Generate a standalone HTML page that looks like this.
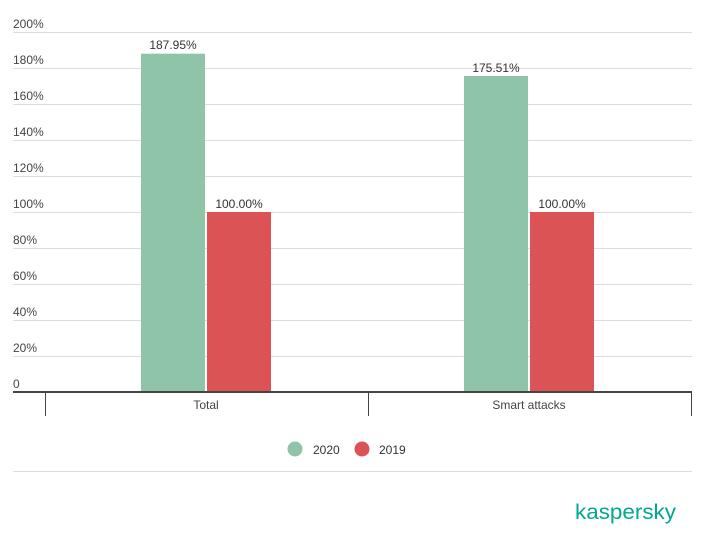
<!DOCTYPE html>
<html><head><style>
body{margin:0;background:#fff;width:706px;height:540px;overflow:hidden;font-family:"Liberation Sans",sans-serif}
</style></head><body>
<svg width="706" height="540" xmlns="http://www.w3.org/2000/svg" font-family="Liberation Sans, sans-serif">
<g stroke="#dcdcdc" stroke-width="1">
<line x1="13" x2="692" y1="32.5" y2="32.5"/><line x1="13" x2="692" y1="68.5" y2="68.5"/>
<line x1="13" x2="692" y1="104.5" y2="104.5"/><line x1="13" x2="692" y1="140.5" y2="140.5"/>
<line x1="13" x2="692" y1="176.5" y2="176.5"/><line x1="13" x2="692" y1="212.5" y2="212.5"/>
<line x1="13" x2="692" y1="248.5" y2="248.5"/><line x1="13" x2="692" y1="284.5" y2="284.5"/>
<line x1="13" x2="692" y1="320.5" y2="320.5"/><line x1="13" x2="692" y1="356.5" y2="356.5"/>
<line x1="13" x2="692" y1="471.5" y2="471.5"/>
</g>
<g font-size="12" fill="#444">
<text x="13" y="28">200%</text><text x="13" y="64">180%</text><text x="13" y="100">160%</text>
<text x="13" y="136">140%</text><text x="13" y="172">120%</text><text x="13" y="208">100%</text>
<text x="13" y="244">80%</text><text x="13" y="280">60%</text><text x="13" y="316">40%</text>
<text x="13" y="352">20%</text><text x="13" y="388">0</text>
</g>
<rect x="141" y="53.7" width="64" height="338.3" fill="#8fc4a8"/>
<rect x="207" y="212" width="64" height="180" fill="#dc5356"/>
<rect x="464" y="76" width="64" height="316" fill="#8fc4a8"/>
<rect x="530" y="212" width="64" height="180" fill="#dc5356"/>
<g font-size="12" fill="#333" text-anchor="middle">
<text x="173" y="49">187.95%</text><text x="239" y="208">100.00%</text>
<text x="496" y="72">175.51%</text><text x="562" y="208">100.00%</text>
</g>
<rect x="13" y="391" width="679" height="2" fill="#444"/>
<g stroke="#444" stroke-width="1"><line x1="45.5" x2="45.5" y1="393" y2="416"/><line x1="368.5" x2="368.5" y1="393" y2="416"/><line x1="691.5" x2="691.5" y1="393" y2="416"/></g>
<g font-size="12" fill="#444" text-anchor="middle"><text x="206" y="409">Total</text><text x="529" y="409">Smart attacks</text></g>
<circle cx="295" cy="449" r="7.5" fill="#8fc4a8"/><text x="313" y="454" font-size="12" fill="#333">2020</text>
<circle cx="362" cy="449" r="7.5" fill="#dc5356"/><text x="379" y="454" font-size="12" fill="#333">2019</text>
<text x="676" y="519" font-size="21" fill="#00a88e" text-anchor="end" textLength="101" lengthAdjust="spacingAndGlyphs">kaspersky</text>
</svg>
</body></html>
